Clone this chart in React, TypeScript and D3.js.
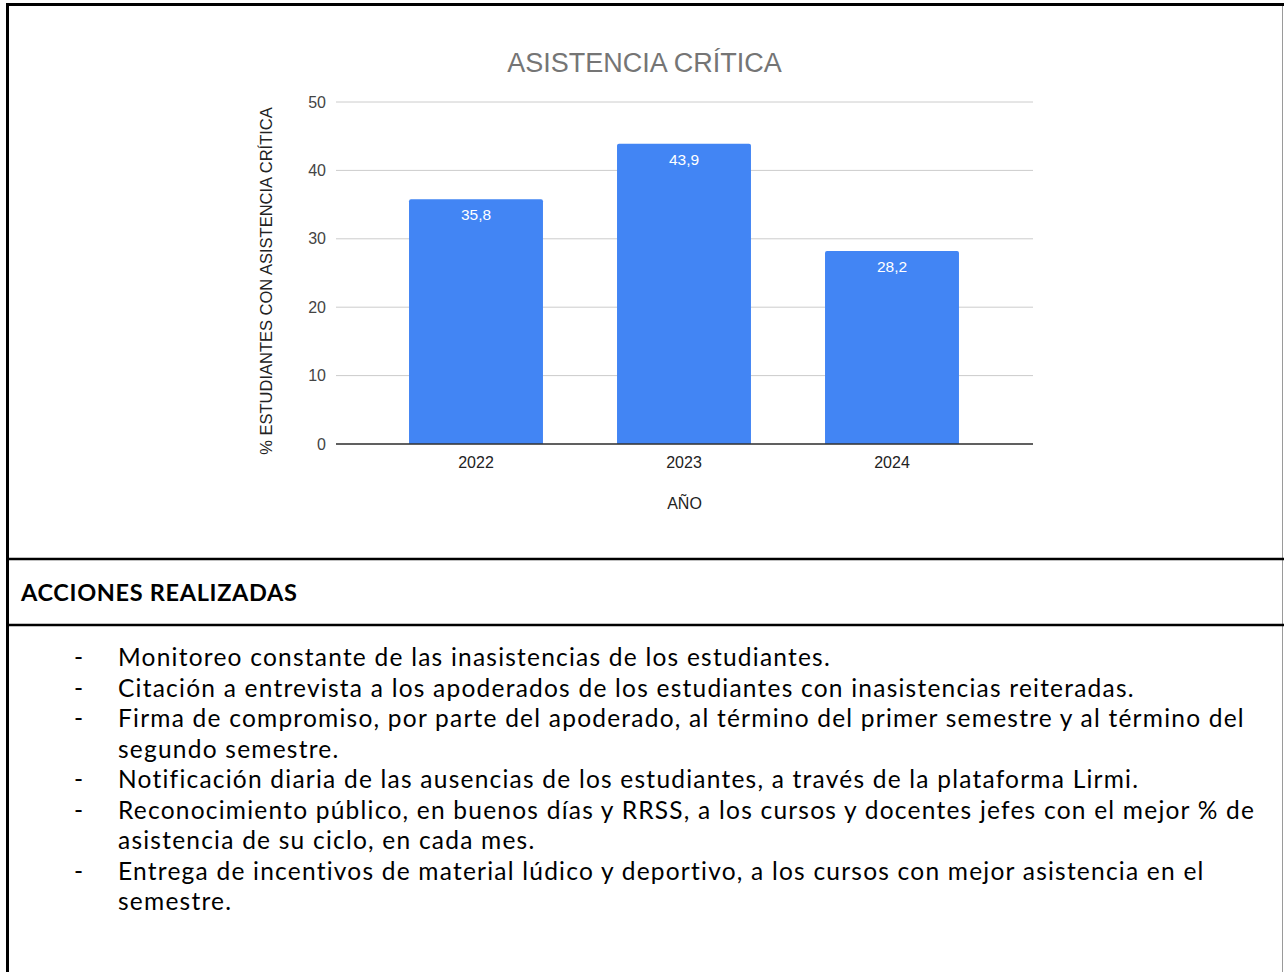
import React, { useRef, useEffect } from 'react';
import * as d3 from 'd3';

const YEARS = ['2022', '2023', '2024'];
const VALUES = [35.8, 43.9, 28.2];
const Y_TICKS = [0, 10, 20, 30, 40, 50];
const ACTIONS = [
  ['Monitoreo constante de las inasistencias de los estudiantes.'],
  ['Citación a entrevista a los apoderados de los estudiantes con inasistencias reiteradas.'],
  ['Firma de compromiso, por parte del apoderado, al término del primer semestre y al término del', 'segundo semestre.'],
  ['Notificación diaria de las ausencias de los estudiantes, a través de la plataforma Lirmi.'],
  ['Reconocimiento público, en buenos días y RRSS, a los cursos y docentes jefes con el mejor % de', 'asistencia de su ciclo, en cada mes.'],
  ['Entrega de incentivos de material lúdico y deportivo, a los cursos con mejor asistencia en el', 'semestre.'],
];

const W = 1284;
const H = 972;
const ARIAL = '"Liberation Sans", Arial, sans-serif';
const BODY = 'Lato, "Open Sans", sans-serif';
const BODY_SIZE = 24.5;

export default function App() {
  const svgRef = useRef<SVGSVGElement | null>(null);

  useEffect(() => {
    if (!svgRef.current) return;
    const svg = d3.select(svgRef.current);
    svg.selectAll('*').remove();

    // table frame
    svg.append('rect').attr('x', 0).attr('y', 0).attr('width', W).attr('height', H).attr('fill', '#fff');
    svg.append('line').attr('x1', 6).attr('x2', W).attr('y1', 4.5).attr('y2', 4.5).attr('stroke', '#000').attr('stroke-width', 3);
    svg.append('line').attr('x1', 7.5).attr('x2', 7.5).attr('y1', 3).attr('y2', H).attr('stroke', '#000').attr('stroke-width', 3);
    svg.append('line').attr('x1', W - 1.5).attr('x2', W - 1.5).attr('y1', 6).attr('y2', H).attr('stroke', '#9a9a9a').attr('stroke-width', 1);
    [559, 625].forEach((y) => {
      svg.append('line').attr('x1', 6).attr('x2', W).attr('y1', y).attr('y2', y).attr('stroke', '#000').attr('stroke-width', 2.5);
    });

    // chart
    const x = d3.scaleBand().domain(YEARS).range([372, 996]).paddingInner(0.356).paddingOuter(0.178);
    const y = d3.scaleLinear().domain([0, 50]).range([444, 102]);
    const gridLeft = 336;
    const gridRight = 1033;

    svg.append('text').attr('x', (gridLeft + gridRight) / 2 - 40).attr('y', 72).attr('text-anchor', 'middle')
      .attr('font-family', ARIAL).attr('font-size', 27).attr('fill', '#757575').text('ASISTENCIA CRÍTICA');

    const g = svg.append('g');
    Y_TICKS.forEach((t) => {
      g.append('line').attr('x1', gridLeft).attr('x2', gridRight).attr('y1', y(t)).attr('y2', y(t))
        .attr('stroke', '#cccccc').attr('stroke-width', 1);
      g.append('text').attr('x', 326).attr('y', y(t)).attr('dy', '0.35em').attr('text-anchor', 'end')
        .attr('font-family', ARIAL).attr('font-size', 16).attr('fill', '#444').text(t);
    });

    g.selectAll('.bar').data(VALUES).enter().append('path').attr('class', 'bar')
      .attr('d', (d, i) => {
        const x0 = x(YEARS[i]) as number;
        const bw = x.bandwidth();
        const top = y(d);
        const r = 2;
        return `M${x0},${y(0)}V${top + r}Q${x0},${top} ${x0 + r},${top}H${x0 + bw - r}Q${x0 + bw},${top} ${x0 + bw},${top + r}V${y(0)}Z`;
      })
      .attr('fill', '#4285f4');
    g.append('line').attr('x1', gridLeft).attr('x2', gridRight).attr('y1', y(0)).attr('y2', y(0)).attr('stroke', '#333').attr('stroke-width', 1.3);

    g.selectAll('.val').data(VALUES).enter().append('text').attr('class', 'val')
      .attr('x', (d, i) => (x(YEARS[i]) as number) + x.bandwidth() / 2).attr('y', (d) => y(d) + 21)
      .attr('text-anchor', 'middle').attr('font-family', ARIAL).attr('font-size', 15.5).attr('fill', '#fff')
      .text((d) => d.toFixed(1).replace('.', ','));

    YEARS.forEach((yr) => {
      g.append('text').attr('x', (x(yr) as number) + x.bandwidth() / 2).attr('y', 468).attr('text-anchor', 'middle')
        .attr('font-family', ARIAL).attr('font-size', 16).attr('fill', '#222').text(yr);
    });
    g.append('text').attr('x', (gridLeft + gridRight) / 2).attr('y', 509).attr('text-anchor', 'middle')
      .attr('font-family', ARIAL).attr('font-size', 16).attr('fill', '#222').text('AÑO');
    g.append('text').attr('transform', `translate(272,${(y(0) + y(50)) / 2 + 8}) rotate(-90)`).attr('text-anchor', 'middle')
      .attr('font-family', ARIAL).attr('font-size', 16.5).attr('fill', '#222').text('% ESTUDIANTES CON ASISTENCIA CRÍTICA');

    // acciones realizadas: Lato is narrower than the original font, so widen it with letter spacing
    const headText = 'ACCIONES REALIZADAS';
    const heading = svg.append('text').attr('x', 21).attr('y', 601).attr('font-family', BODY).attr('font-weight', 700)
      .attr('font-size', 23.5).attr('fill', '#000').text(headText);
    const hw = (heading.node() as SVGTextElement).getComputedTextLength();
    heading.attr('letter-spacing', Math.max(0, (276 - hw) / (headText.length - 1)));

    const lines: d3.Selection<SVGTextElement, unknown, null, undefined>[] = [];
    let row = 0;
    ACTIONS.forEach((item) => {
      item.forEach((line, j) => {
        const by = 666 + row * 30.5;
        if (j === 0) {
          svg.append('text').attr('x', 74).attr('y', by).attr('font-family', BODY).attr('font-size', BODY_SIZE).attr('fill', '#000').text('-');
        }
        lines.push(svg.append('text').attr('x', 118).attr('y', by).attr('font-family', BODY).attr('font-size', BODY_SIZE).attr('fill', '#000').text(line));
        row += 1;
      });
    });
    const longest = lines.reduce((a, b) =>
      (b.node() as SVGTextElement).getComputedTextLength() > (a.node() as SVGTextElement).getComputedTextLength() ? b : a);
    const lw = (longest.node() as SVGTextElement).getComputedTextLength();
    const ls = Math.max(0, (1136 - lw) / (longest.text().length - 1));
    lines.forEach((s) => s.attr('letter-spacing', ls));
  }, []);

  return (
    <div style={{ position: 'absolute', left: 0, top: 0 }}>
      <svg ref={svgRef} width={W} height={H} style={{ display: 'block' }} />
    </div>
  );
}
